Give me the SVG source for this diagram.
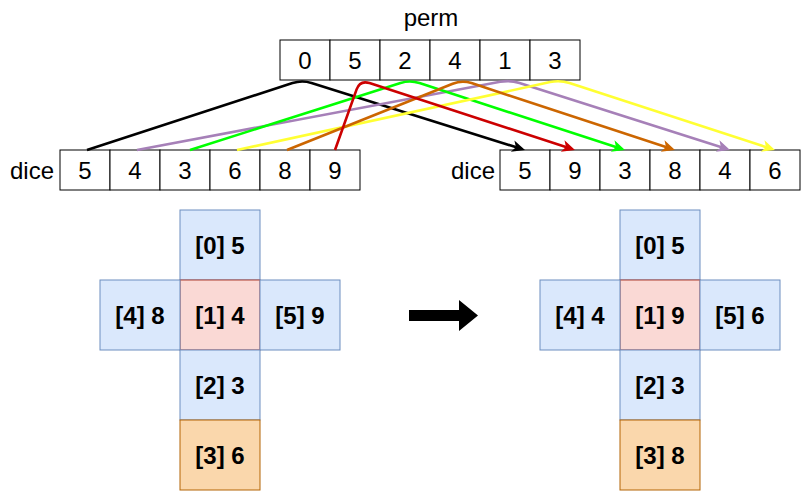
<svg xmlns="http://www.w3.org/2000/svg" width="801" height="491" viewBox="0 0 801 491">
<style>
.cell{fill:#fff;stroke:#000;stroke-width:1}
.t{font-family:"Liberation Sans",Arial,sans-serif;font-size:24px;fill:#000;text-anchor:middle}
.lbl{font-family:"Liberation Sans",Arial,sans-serif;font-size:24px;fill:#000}
.b{font-family:"Liberation Sans",Arial,sans-serif;font-size:24px;font-weight:bold;fill:#000;text-anchor:middle}
.blue{fill:#dae8fc;stroke:#6c8ebf;stroke-width:1}
.red{fill:#fad9d5;stroke:#ae4132;stroke-width:1}
.org{fill:#fad7ac;stroke:#b46504;stroke-width:1}
.e{fill:none;stroke-width:2.6}
</style>
<defs>
<marker id="mk" markerUnits="userSpaceOnUse" markerWidth="16" markerHeight="14" refX="9" refY="6" orient="auto" overflow="visible"><path d="M0,0 L13,6 L0,12 L3.5,6 z" fill="#000"/></marker>
<marker id="mr" markerUnits="userSpaceOnUse" markerWidth="16" markerHeight="14" refX="9" refY="6" orient="auto" overflow="visible"><path d="M0,0 L13,6 L0,12 L3.5,6 z" fill="#CC0000"/></marker>
<marker id="mg" markerUnits="userSpaceOnUse" markerWidth="16" markerHeight="14" refX="9" refY="6" orient="auto" overflow="visible"><path d="M0,0 L13,6 L0,12 L3.5,6 z" fill="#00FF00"/></marker>
<marker id="mo" markerUnits="userSpaceOnUse" markerWidth="16" markerHeight="14" refX="9" refY="6" orient="auto" overflow="visible"><path d="M0,0 L13,6 L0,12 L3.5,6 z" fill="#CC6600"/></marker>
<marker id="mp" markerUnits="userSpaceOnUse" markerWidth="16" markerHeight="14" refX="9" refY="6" orient="auto" overflow="visible"><path d="M0,0 L13,6 L0,12 L3.5,6 z" fill="#A680B8"/></marker>
<marker id="my" markerUnits="userSpaceOnUse" markerWidth="16" markerHeight="14" refX="9" refY="6" orient="auto" overflow="visible"><path d="M0,0 L13,6 L0,12 L3.5,6 z" fill="#FFFF33"/></marker>
</defs>
<rect width="801" height="491" fill="#fff"/>

<g id="perm">
<text class="t" x="431" y="26">perm</text>
<rect class="cell" x="280" y="40" width="50" height="40"/><text class="t" x="305" y="68.6">0</text>
<rect class="cell" x="330" y="40" width="50" height="40"/><text class="t" x="355" y="68.6">5</text>
<rect class="cell" x="380" y="40" width="50" height="40"/><text class="t" x="405" y="68.6">2</text>
<rect class="cell" x="430" y="40" width="50" height="40"/><text class="t" x="455" y="68.6">4</text>
<rect class="cell" x="480" y="40" width="50" height="40"/><text class="t" x="505" y="68.6">1</text>
<rect class="cell" x="530" y="40" width="50" height="40"/><text class="t" x="555" y="68.6">3</text>
</g>

<g id="dice-left">
<text class="lbl" x="54" y="178.6" text-anchor="end">dice</text>
<rect class="cell" x="60" y="150" width="50" height="40"/><text class="t" x="85" y="178.6">5</text>
<rect class="cell" x="110" y="150" width="50" height="40"/><text class="t" x="135" y="178.6">4</text>
<rect class="cell" x="160" y="150" width="50" height="40"/><text class="t" x="185" y="178.6">3</text>
<rect class="cell" x="210" y="150" width="50" height="40"/><text class="t" x="235" y="178.6">6</text>
<rect class="cell" x="260" y="150" width="50" height="40"/><text class="t" x="285" y="178.6">8</text>
<rect class="cell" x="310" y="150" width="50" height="40"/><text class="t" x="335" y="178.6">9</text>
</g>

<g id="dice-right">
<text class="lbl" x="495" y="178.6" text-anchor="end">dice</text>
<rect class="cell" x="500" y="150" width="50" height="40"/><text class="t" x="525" y="178.6">5</text>
<rect class="cell" x="550" y="150" width="50" height="40"/><text class="t" x="575" y="178.6">9</text>
<rect class="cell" x="600" y="150" width="50" height="40"/><text class="t" x="625" y="178.6">3</text>
<rect class="cell" x="650" y="150" width="50" height="40"/><text class="t" x="675" y="178.6">8</text>
<rect class="cell" x="700" y="150" width="50" height="40"/><text class="t" x="725" y="178.6">4</text>
<rect class="cell" x="750" y="150" width="50" height="40"/><text class="t" x="775" y="178.6">6</text>
</g>

<g id="connectors">
<path class="e" stroke="#000000" marker-end="url(#mk)" d="M87,150 L292.5,83.1 Q302,80 311.5,83 L521.2,148.8"/>
<path class="e" stroke="#A680B8" marker-end="url(#mp)" d="M137,150 L500.2,81.8 Q510,80 519.5,83 L726.2,148.8"/>
<path class="e" stroke="#00FF00" marker-end="url(#mg)" d="M190,150 L400.5,83 Q410,80 419.5,83.1 L621.2,148.8"/>
<path class="e" stroke="#FFFF33" marker-end="url(#my)" d="M237,150 L550.2,82.1 Q560,80 569.5,83.1 L771.2,148.8"/>
<path class="e" stroke="#CC6600" marker-end="url(#mo)" d="M287,150 L452.7,83.7 Q462,80 471.5,83.1 L671.2,148.8"/>
<path class="e" stroke="#CC0000" marker-end="url(#mr)" d="M335,150 L356.6,89.4 Q360,80 369.5,83.1 L571.2,148.8"/>
</g>

<g id="cube-left">
<g id="l0"><rect class="blue" x="180" y="210" width="80" height="70"/><text class="b" x="220" y="253.6">[0] 5</text></g>
<g id="l1"><rect class="red" x="180" y="280" width="80" height="70"/><text class="b" x="220" y="323.6">[1] 4</text></g>
<g id="l4"><rect class="blue" x="100" y="280" width="80" height="70"/><text class="b" x="140" y="323.6">[4] 8</text></g>
<g id="l5"><rect class="blue" x="260" y="280" width="80" height="70"/><text class="b" x="300" y="323.6">[5] 9</text></g>
<g id="l2"><rect class="blue" x="180" y="350" width="80" height="70"/><text class="b" x="220" y="393.6">[2] 3</text></g>
<g id="l3"><rect class="org" x="180" y="420" width="80" height="70"/><text class="b" x="220" y="463.6">[3] 6</text></g>
</g>

<g id="arrow">
<polygon points="409,310 459,310 459,300 478,315.5 459,331 459,321 409,321" fill="#000"/>
</g>

<g id="cube-right">
<g id="r0"><rect class="blue" x="620" y="210" width="80" height="70"/><text class="b" x="660" y="253.6">[0] 5</text></g>
<g id="r1"><rect class="red" x="620" y="280" width="80" height="70"/><text class="b" x="660" y="323.6">[1] 9</text></g>
<g id="r4"><rect class="blue" x="540" y="280" width="80" height="70"/><text class="b" x="580" y="323.6">[4] 4</text></g>
<g id="r5"><rect class="blue" x="700" y="280" width="80" height="70"/><text class="b" x="740" y="323.6">[5] 6</text></g>
<g id="r2"><rect class="blue" x="620" y="350" width="80" height="70"/><text class="b" x="660" y="393.6">[2] 3</text></g>
<g id="r3"><rect class="org" x="620" y="420" width="80" height="70"/><text class="b" x="660" y="463.6">[3] 8</text></g>
</g>
</svg>
